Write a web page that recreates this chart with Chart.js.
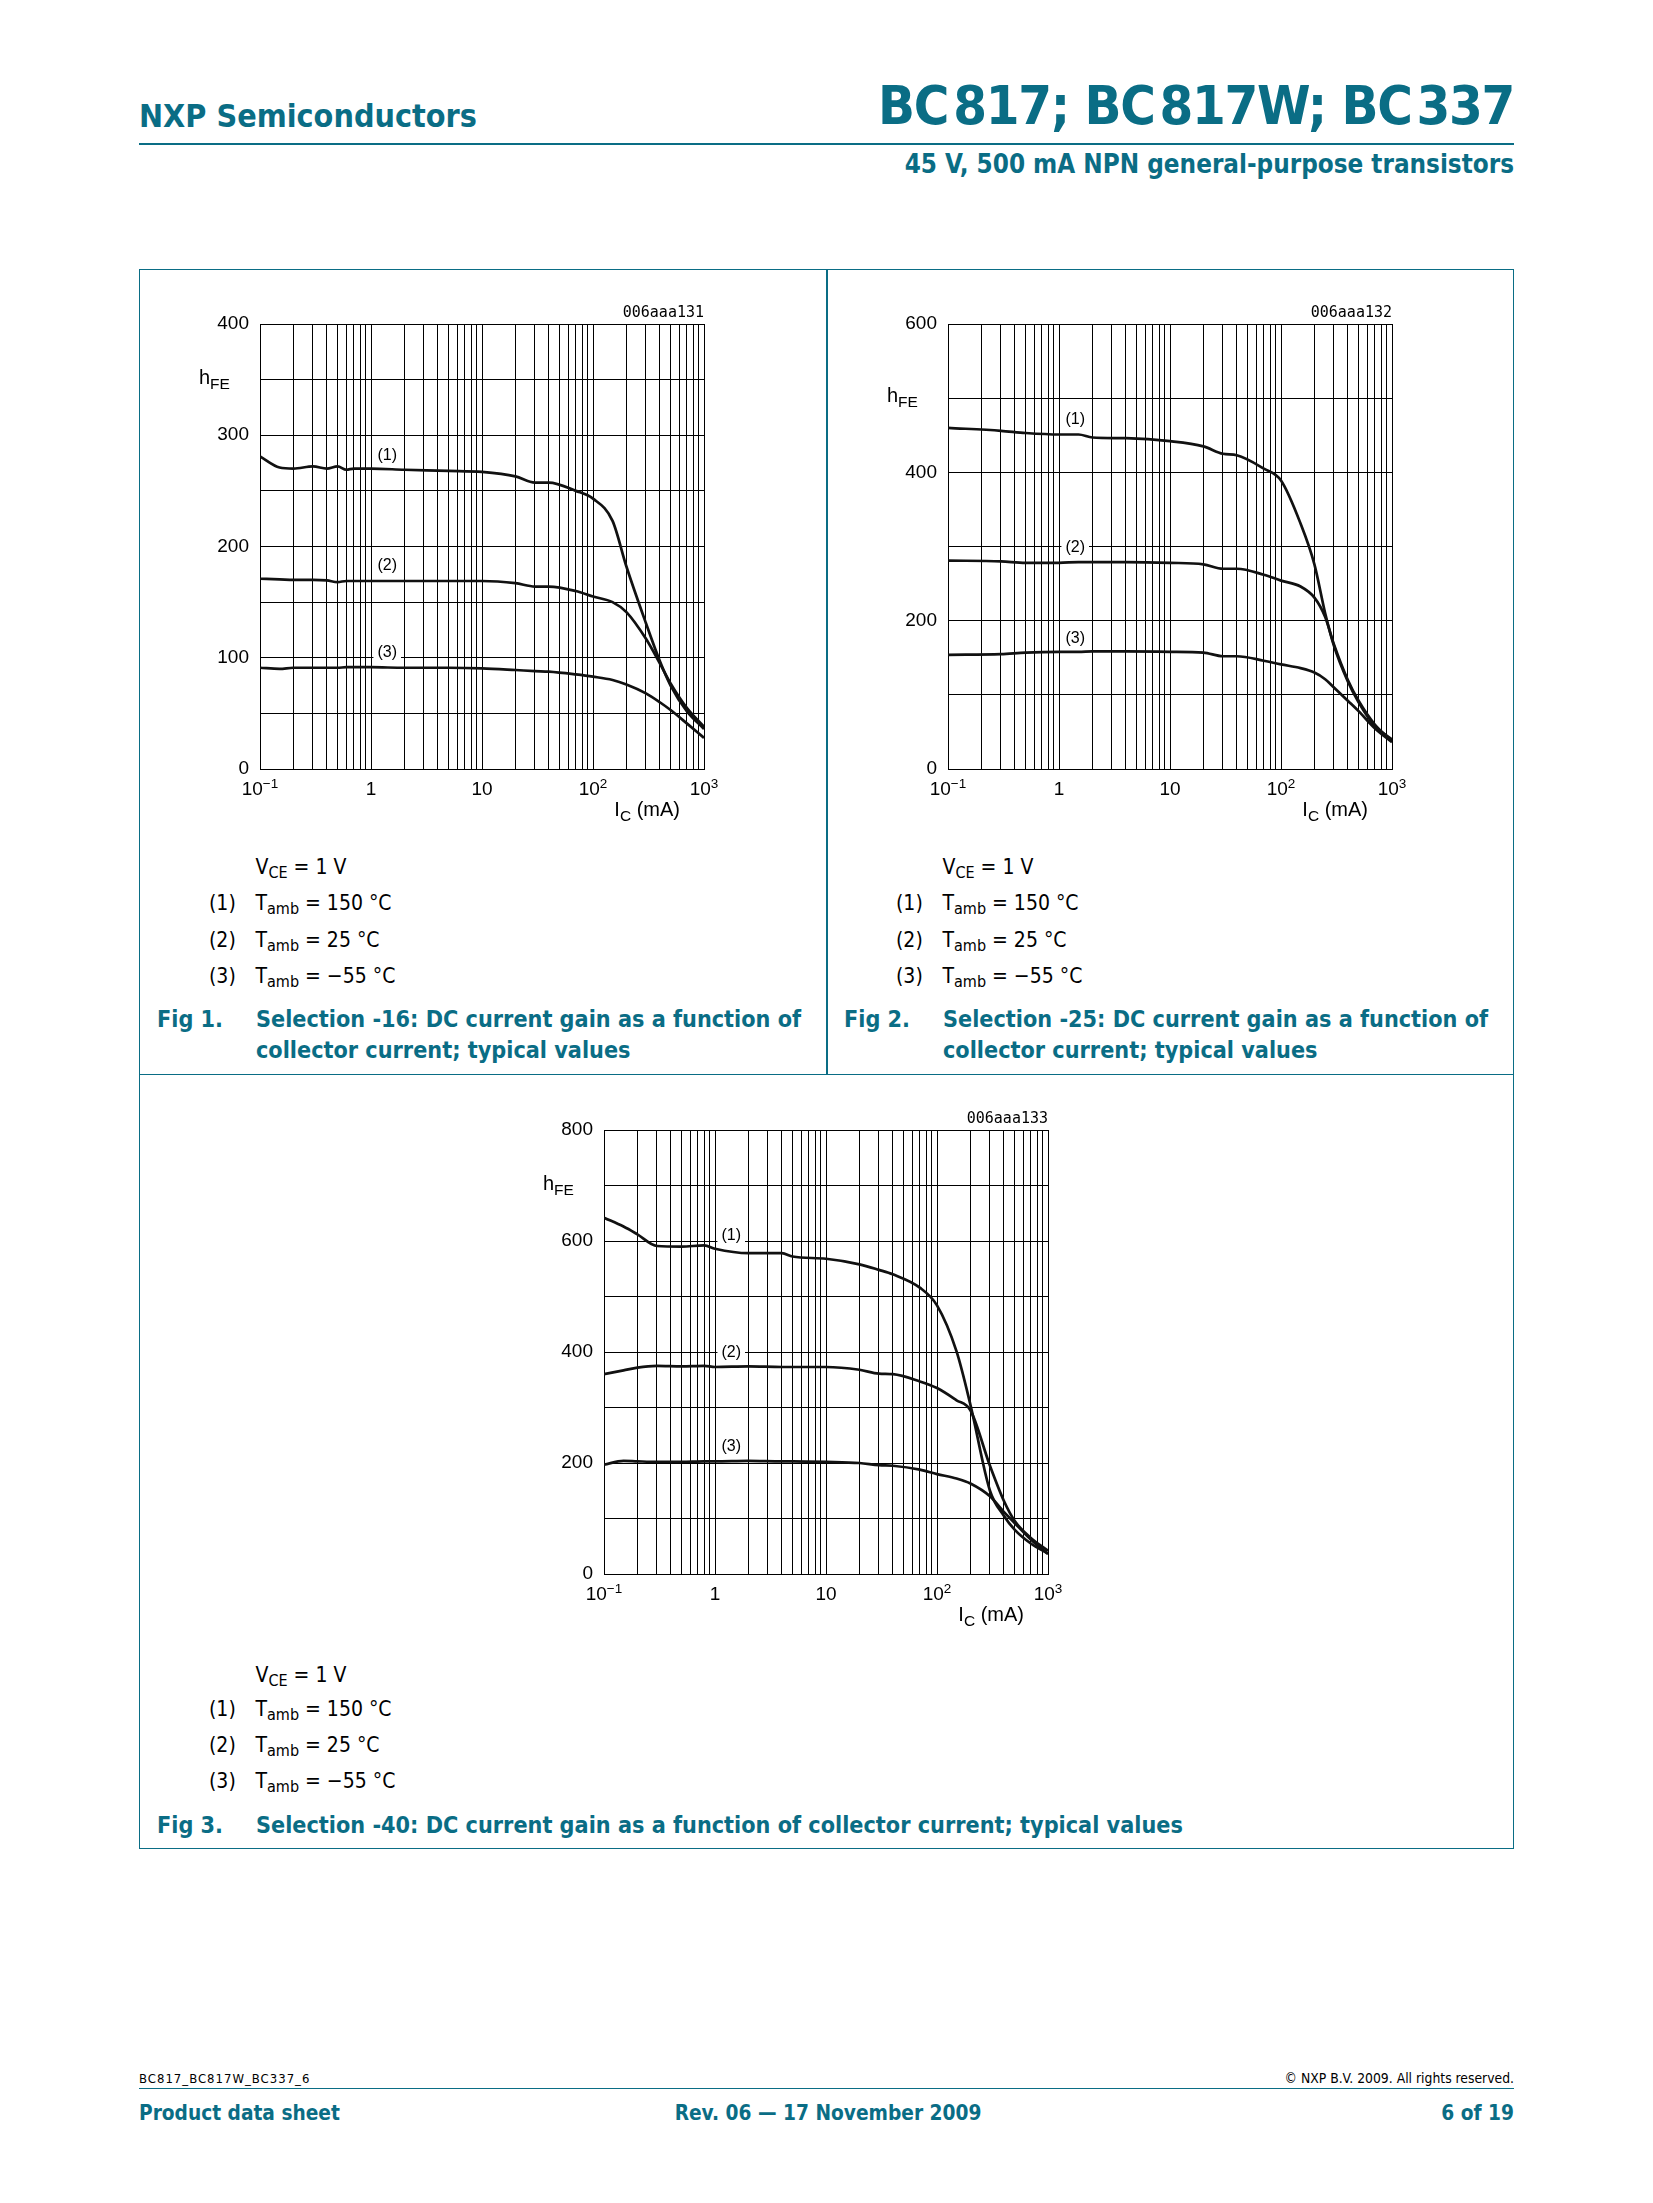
<!DOCTYPE html>
<html>
<head>
<meta charset="utf-8">
<title>BC817; BC817W; BC337 - DC current gain</title>
<script src="https://cdn.jsdelivr.net/npm/chart.js@4.4.1/dist/chart.umd.min.js"></script>
<style>
  html, body { margin: 0; padding: 0; background: #fff; }
  body { position: relative; width: 1653px; height: 2203px; overflow: hidden;
         font-family: "DejaVu Sans Condensed", "DejaVu Sans", sans-serif; font-stretch: condensed; color: #000; }
  .t { position: absolute; white-space: nowrap; line-height: 1; }
  .b { font-weight: bold; }
  .teal { color: #0a6d85; }
  .s { font-size: 16px; position: relative; top: 4px; }
  .gap { margin-right: 5px; }
  .rule { position: absolute; background: #0a6d85; }
  canvas { position: absolute; }
</style>
</head>
<body>

<!-- page header -->
<div class="t b teal" style="left:139px;top:99.6px;font-size:32px">NXP Semiconductors</div>
<div class="t b teal" style="right:139px;top:79.3px;font-size:54px;letter-spacing:-1.3px">B<span class="gap">C</span>817; B<span class="gap">C</span>817W; B<span class="gap">C</span>337</div>
<div class="rule" style="left:139px;top:143px;width:1375px;height:1.5px"></div>
<div class="t b teal" style="right:139px;top:152.2px;font-size:25.8px">45 V, 500 mA NPN general-purpose transistors</div>

<!-- figure frame -->
<div style="position:absolute;left:139px;top:269px;width:1375px;height:1580px;border:1.5px solid #0a6d85;box-sizing:border-box"></div>
<div class="rule" style="left:826px;top:269px;width:1.5px;height:805px"></div>
<div class="rule" style="left:139px;top:1073.5px;width:1375px;height:1.5px"></div>

<canvas id="fig1" width="554" height="555" style="left:180px;top:284px"></canvas>
<canvas id="fig2" width="554" height="555" style="left:868px;top:284px"></canvas>
<canvas id="fig3" width="554" height="554" style="left:524px;top:1090px"></canvas>

<div id="legends"></div>

<!-- captions -->
<div class="t b teal" style="left:157px;top:1007px;font-size:23.2px">Fig 1.</div>
<div class="t b teal" style="left:256px;top:1007px;font-size:23.2px">Selection -16: DC current gain as a function of</div>
<div class="t b teal" style="left:256px;top:1038.4px;font-size:23.2px">collector current; typical values</div>
<div class="t b teal" style="left:844px;top:1007px;font-size:23.2px">Fig 2.</div>
<div class="t b teal" style="left:943px;top:1007px;font-size:23.2px">Selection -25: DC current gain as a function of</div>
<div class="t b teal" style="left:943px;top:1038.4px;font-size:23.2px">collector current; typical values</div>
<div class="t b teal" style="left:157px;top:1813px;font-size:23.2px">Fig 3.</div>
<div class="t b teal" style="left:256px;top:1813px;font-size:23.2px">Selection -40: DC current gain as a function of collector current; typical values</div>

<!-- footer -->
<div class="t" style="left:139px;top:2072px;font-size:13px;letter-spacing:1px">BC817_BC817W_BC337_6</div>
<div class="t" style="right:139px;top:2071.5px;font-size:13.8px">© NXP B.V. 2009. All rights reserved.</div>
<div class="rule" style="left:139px;top:2087.5px;width:1375px;height:1.5px"></div>
<div class="t b teal" style="left:139px;top:2102.5px;font-size:20.7px">Product data sheet</div>
<div class="t b teal" style="left:828px;top:2102.5px;font-size:20.7px;transform:translateX(-50%)">Rev. 06 — 17 November 2009</div>
<div class="t b teal" style="right:139px;top:2102.5px;font-size:20.7px">6 of 19</div>

<script>
// x axis: collector current I_C in mA (log scale)
const xDecades = [0.1, 1, 10, 100];
const xGrid = xDecades.flatMap(d => [1, 2, 3, 4, 5, 6, 7, 8, 9].map(m => d * m)).concat([1000]);
const xMajor = [0.1, 1, 10, 100, 1000];
const xTickLabels = ['10^\u22121', '1', '10', '10^2', '10^3'];

const curveTags = ['(1)', '(2)', '(3)'];
const tambLabels = ['150 °C', '25 °C', '\u221255 °C'];
const tagIc = 1.4;

// Fig 1: selection -16
const icFig1 = [0.1, 0.15, 0.2, 0.3, 0.4, 0.5, 0.6, 0.7, 1, 2, 5, 10, 20, 30, 40, 70, 100, 150, 200, 300, 400, 500, 700, 1000];
const hfe1T150 = [281, 271, 270, 272, 270, 272, 269, 270, 270, 269, 268, 267, 263, 257.5, 257.5, 250, 243, 223, 182, 131, 97, 75, 52, 36];
const hfe1T25 = [171, 170.5, 170, 170, 169.5, 168, 169, 169, 169, 169, 169, 169, 167, 164, 164, 160, 155, 150, 141, 117, 95, 77, 55, 38];
const hfe1Tm55 = [91, 90, 91, 91, 91, 91, 91.5, 91.5, 91.5, 91, 91, 90.5, 89, 88, 87.5, 85, 83, 80, 76, 68, 60, 53, 41, 28];
const tagYFig1 = [282, 183, 105];

// Fig 2: selection -25
const icFig2 = [0.1, 0.3, 0.5, 1, 1.5, 2, 4, 10, 20, 30, 40, 70, 100, 150, 200, 250, 300, 400, 500, 700, 1000];
const hfe2T150 = [460, 456, 453, 451, 451, 447, 446, 442, 435, 425, 423, 405, 389, 331, 276, 210, 166, 118, 90, 58, 40];
const hfe2T25 = [281, 280, 278, 278, 279, 279, 279, 278, 276, 270, 270, 262, 254, 246, 231, 205, 168, 120, 92, 60, 38];
const hfe2Tm55 = [154, 155, 157, 158, 158, 158.5, 158.5, 158, 157, 152, 152, 146, 141, 136, 130, 121, 110, 92, 78, 55, 36];
const tagYFig2 = [471, 299, 176];

// Fig 3: selection -40
const icFig3 = [0.1, 0.15, 0.2, 0.3, 0.5, 0.8, 1, 2, 4, 5, 10, 20, 30, 40, 70, 100, 150, 200, 300, 400, 500, 700, 1000];
const hfe3T150 = [642, 626, 612, 591, 590, 592, 586, 578, 578, 572, 568, 558, 548, 540, 516, 484, 401, 305, 150, 105, 80, 55, 37];
const hfe3T25 = [360, 367, 372, 375, 374, 375, 373, 374, 373, 373, 373, 368, 361, 360, 347, 335, 313, 295, 195, 132, 96, 65, 42];
const hfe3Tm55 = [197, 204, 203, 202, 202, 203, 203, 204, 203, 203, 202, 200, 196, 195, 188, 180, 172, 163, 140, 112, 92, 62, 36];
const tagYFig3 = [609, 399, 230];

const figs = [
  { id: 'fig1', code: '006aaa131', ic: icFig1, series: [hfe1T150, hfe1T25, hfe1Tm55], yMax: 400, yGrid: 50, yLabelStep: 100, tagY: tagYFig1 },
  { id: 'fig2', code: '006aaa132', ic: icFig2, series: [hfe2T150, hfe2T25, hfe2Tm55], yMax: 600, yGrid: 100, yLabelStep: 200, tagY: tagYFig2 },
  { id: 'fig3', code: '006aaa133', ic: icFig3, series: [hfe3T150, hfe3T25, hfe3Tm55], yMax: 800, yGrid: 100, yLabelStep: 200, tagY: tagYFig3 }
];

const sansFont = '"Liberation Sans", Arial, Helvetica, sans-serif';
Chart.defaults.font.family = sansFont;
Chart.defaults.color = '#000';

// draws "base^exp" centred on cx
function drawPower(ctx, label, cx, baseline) {
  const [base, exp] = label.split('^');
  ctx.font = '19px ' + sansFont;
  const wb = ctx.measureText(base).width;
  ctx.font = '13.5px ' + sansFont;
  const we = exp ? ctx.measureText(exp).width : 0;
  const x0 = cx - (wb + we) / 2;
  ctx.font = '19px ' + sansFont;
  ctx.fillText(base, x0, baseline);
  if (exp) {
    ctx.font = '13.5px ' + sansFont;
    ctx.fillText(exp, x0 + wb, baseline - 7.5);
  }
}

// draws a main text followed by a lowered subscript
function drawSub(ctx, parts, x, baseline, alignRight) {
  // parts: [text, size, dy]
  let total = 0;
  parts.forEach(p => { ctx.font = p[1] + 'px ' + sansFont; total += ctx.measureText(p[0]).width; });
  let cx = alignRight ? x - total : x;
  parts.forEach(p => {
    ctx.font = p[1] + 'px ' + sansFont;
    ctx.fillText(p[0], cx, baseline + p[2]);
    cx += ctx.measureText(p[0]).width;
  });
}

function figurePlugin(fig) {
  return {
    id: 'figText',
    beforeDatasetsDraw(chart) {
      const { ctx } = chart;
      const xs = chart.scales.x, ys = chart.scales.y;
      ctx.save();
      ctx.font = '16px ' + sansFont;
      ctx.textAlign = 'center';
      ctx.textBaseline = 'middle';
      curveTags.forEach((tag, i) => {
        const px = xs.getPixelForValue(tagIc);
        const py = ys.getPixelForValue(fig.tagY[i]);
        const w = ctx.measureText(tag).width + 8;
        ctx.fillStyle = '#fff';
        ctx.fillRect(px - w / 2, py - 9, w, 18);
        ctx.fillStyle = '#000';
        ctx.fillText(tag, px, py);
      });
      ctx.restore();
    },
    afterDraw(chart) {
      const { ctx, chartArea: a } = chart;
      const xs = chart.scales.x, ys = chart.scales.y;
      ctx.save();
      ctx.fillStyle = '#000';
      ctx.textAlign = 'left';
      ctx.textBaseline = 'alphabetic';
      xMajor.forEach((v, i) => drawPower(ctx, xTickLabels[i], xs.getPixelForValue(v), a.bottom + 26));
      drawSub(ctx, [['I', 20, 0], ['C', 15.5, 4.5], [' (mA)', 20, 0]], a.right - 24, a.bottom + 47, true);
      drawSub(ctx, [['h', 20, 0], ['FE', 15.5, 5]], a.left - 61, ys.getPixelForValue(fig.yMax - fig.yGrid) + 4, false);
      ctx.font = '15px "DejaVu Sans Mono", monospace';
      ctx.textAlign = 'right';
      ctx.fillText(fig.code, a.right, a.top - 7);
      ctx.restore();
    }
  };
}

function buildChart(fig) {
  const ctx = document.getElementById(fig.id).getContext('2d');
  const gridStyle = { color: '#000', lineWidth: 1, drawTicks: false };
  const borderStyle = { color: '#000', width: 1 };
  new Chart(ctx, {
    type: 'line',
    data: {
      datasets: fig.series.map((ys, k) => ({
        label: tambLabels[k],
        data: fig.ic.map((x, i) => ({ x: x, y: ys[i] })),
        borderColor: '#111',
        borderWidth: 2.7,
        pointRadius: 0,
        fill: false,
        cubicInterpolationMode: 'monotone'
      }))
    },
    options: {
      responsive: false,
      animation: false,
      events: [],
      layout: { padding: { top: 40, right: 30, bottom: 0, left: 0 } },
      plugins: { legend: { display: false }, tooltip: { enabled: false } },
      scales: {
        x: {
          type: 'logarithmic',
          min: 0.1,
          max: 1000,
          afterBuildTicks: s => { s.ticks = xGrid.map(v => ({ value: v })); },
          afterFit: s => { s.height = 70; },
          ticks: { display: false },
          grid: gridStyle,
          border: borderStyle
        },
        y: {
          type: 'linear',
          min: 0,
          max: fig.yMax,
          afterFit: s => { s.width = 80; },
          ticks: {
            stepSize: fig.yGrid,
            autoSkip: false,
            padding: 11,
            color: '#000',
            font: { size: 19 },
            callback: v => (v % fig.yLabelStep === 0 ? String(v) : '')
          },
          grid: gridStyle,
          border: borderStyle
        }
      }
    },
    plugins: [figurePlugin(fig)]
  });
}

// condition legends under each chart
function buildLegend(left, baselines) {
  const box = document.getElementById('legends');
  const put = (x, base, html) => {
    const d = document.createElement('div');
    d.className = 't';
    d.style.left = x + 'px';
    d.style.top = (base - 0.846 * 21) + 'px';
    d.style.fontSize = '21px';
    d.innerHTML = html;
    box.appendChild(d);
  };
  put(left + 116.5, baselines[0], 'V<span class="s">CE</span> = 1 V');
  curveTags.forEach((tag, i) => {
    put(left + 70, baselines[i + 1], tag);
    put(left + 116.5, baselines[i + 1], 'T<span class="s">amb</span> = ' + tambLabels[i]);
  });
}

document.addEventListener('DOMContentLoaded', () => {
  figs.forEach(buildChart);
  buildLegend(139, [875, 911, 947.7, 983.3]);
  buildLegend(826, [875, 911, 947.7, 983.3]);
  buildLegend(139, [1682.7, 1717, 1753, 1789]);
});
</script>
</body>
</html>
